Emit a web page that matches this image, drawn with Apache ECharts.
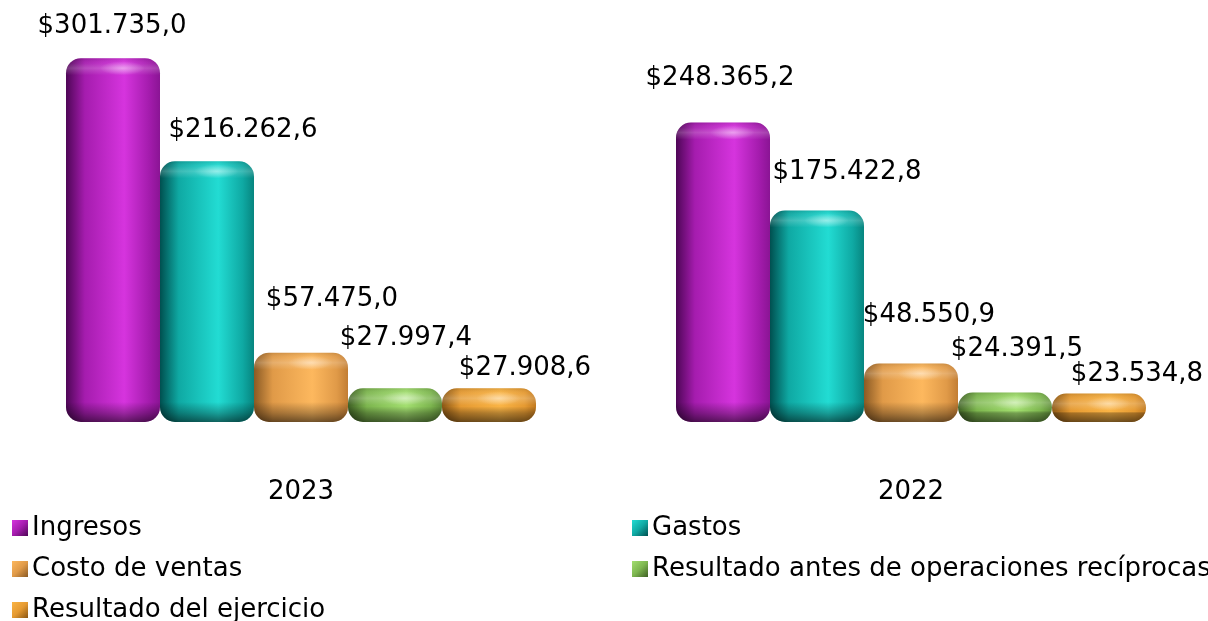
<!DOCTYPE html>
<html>
<head>
<meta charset="utf-8">
<script src="https://cdn.jsdelivr.net/npm/echarts@6/dist/echarts.min.js"></script>
<style>
html,body{margin:0;padding:0;background:#fff;overflow:hidden;}
#chart{width:1220px;height:621px;margin-left:-4px;}
</style>
</head>
<body>
<div id="chart"></div>
<script>
const categories = ['2023', '2022'];
const seriesNames = ['Ingresos', 'Gastos', 'Costo de ventas', 'Resultado antes de operaciones recíprocas', 'Resultado del ejercicio'];
const ingresos = [301735.0, 248365.2];
const gastos = [216262.6, 175422.8];
const costoVentas = [57475.0, 48550.9];
const resultadoAntes = [27997.4, 24391.5];
const resultadoEjercicio = [27908.6, 23534.8];

const seriesValues = [ingresos, gastos, costoVentas, resultadoAntes, resultadoEjercicio];

// styling (not data)
const palettes = [
  {dark: '#4e0656', mid: '#a51cae', light: '#d634de', edge: '#8a1494'},
  {dark: '#004f4f', mid: '#0fa9a3', light: '#22dcd3', edge: '#07857f'},
  {dark: '#8a5a24', mid: '#e09a48', light: '#fdb85e', edge: '#c27d33'},
  {dark: '#3e5f24', mid: '#7db64f', light: '#a3df70', edge: '#5f8c3a'},
  {dark: '#8a5614', mid: '#e59a32', light: '#fab445', edge: '#c27a1f'}
];
const labelOffsets = [
  [[-1, -19], [-3, -31]],
  [[36, -18], [30, -25]],
  [[31, -40], [18, -35]],
  [[11, -37], [12, -30]],
  [[36, -7], [38, -6]]
];
const BAR_W = 94;
const RADIUS = 15;
const FONT = 'DejaVu Sans';
const FS = 26;

function fmt(v) {
  const parts = v.toFixed(1).split('.');
  const intPart = parts[0].replace(/\B(?=(\d{3})+(?!\d))/g, '.');
  return '$' + intPart + ',' + parts[1];
}

const series = seriesNames.map((name, i) => {
  const p = palettes[i];
  return {
    name: name,
    type: 'bar',
    barWidth: BAR_W,
    barGap: '0%',
    z: 2,
    data: seriesValues[i].map((v, j) => ({
      value: v,
      label: {offset: labelOffsets[i][j]}
    })),
    itemStyle: {
      borderRadius: RADIUS,
      color: {
        type: 'linear', x: 0, y: 0, x2: 1, y2: 0,
        colorStops: [
          {offset: 0, color: p.dark},
          {offset: 0.2, color: p.mid},
          {offset: 0.62, color: p.light},
          {offset: 0.88, color: p.mid},
          {offset: 1, color: p.edge}
        ]
      }
    },
    label: {
      show: true,
      position: 'top',
      distance: 0,
      color: '#000',
      fontFamily: FONT,
      fontSize: FS,
      formatter: (prm) => fmt(prm.value)
    }
  };
});

// 3D shading overlay, positioned through the axes
const overlayData = [];
seriesValues.forEach((vals, si) => vals.forEach((v, ci) => overlayData.push([ci, v, si])));
const n = seriesNames.length;

series.push({
  type: 'custom',
  silent: true,
  z: 3,
  data: overlayData,
  renderItem: function (params, api) {
    const ci = api.value(0), v = api.value(1), si = api.value(2);
    const topPt = api.coord([ci, v]);
    const basePt = api.coord([ci, 0]);
    const cx = topPt[0];
    const x = cx - (n * BAR_W) / 2 + si * BAR_W;
    const y = topPt[1];
    const h = basePt[1] - topPt[1];
    const f = (px) => Math.max(0, Math.min(1, px / h));
    const shade = {
      type: 'linear', x: 0, y: 0, x2: 0, y2: 1,
      colorStops: [
        {offset: 0, color: 'rgba(0,0,0,0.10)'},
        {offset: f(5), color: 'rgba(255,255,255,0.06)'},
        {offset: f(10), color: 'rgba(255,255,255,0.20)'},
        {offset: f(17), color: 'rgba(255,255,255,0.0)'},
        {offset: f(Math.max(18, h - 20)), color: 'rgba(0,0,0,0.0)'},
        {offset: f(h - 9), color: 'rgba(0,0,0,0.28)'},
        {offset: 1, color: 'rgba(0,0,0,0.55)'}
      ]
    };
    return {
      type: 'group',
      children: [
        {
          type: 'rect',
          shape: {x: x, y: y, width: BAR_W, height: h, r: RADIUS},
          style: {fill: shade}
        },
        {
          type: 'circle',
          shape: {cx: x + BAR_W * 0.6, cy: y + 10, r: 7},
          scaleX: 3.2, scaleY: 1,
          originX: x + BAR_W * 0.6, originY: y + 10,
          style: {
            fill: {
              type: 'radial', x: 0.5, y: 0.5, r: 0.5,
              colorStops: [
                {offset: 0, color: 'rgba(255,255,255,0.40)'},
                {offset: 1, color: 'rgba(255,255,255,0)'}
              ]
            }
          }
        }
      ]
    };
  }
});

function legendItem(i) {
  const p = palettes[i];
  return {
    name: seriesNames[i],
    itemStyle: {
      color: {
        type: 'linear', x: 0, y: 0, x2: 1, y2: 1,
        colorStops: [
          {offset: 0, color: p.light},
          {offset: 0.5, color: p.mid},
          {offset: 1, color: p.dark}
        ]
      }
    }
  };
}

const legendCommon = {
  orient: 'horizontal',
  icon: 'rect',
  itemWidth: 16,
  itemHeight: 16,
  itemGap: 10,
  padding: 0,
  selectedMode: false,
  textStyle: {fontFamily: FONT, fontSize: FS, color: '#000', lineHeight: 28, padding: [0, 0, 0, -1]}
};
// canvas is shifted 4px left, so add 4 to page x positions
const legendSlots = [
  {idx: 0, left: 16, center: 525},
  {idx: 1, left: 636, center: 525},
  {idx: 2, left: 16, center: 566},
  {idx: 3, left: 636, center: 566},
  {idx: 4, left: 16, center: 607}
];

const option = {
  animation: false,
  backgroundColor: '#fff',
  grid: {left: 0, right: 0, top: 0, bottom: 199, containLabel: false},
  xAxis: {
    type: 'category',
    data: categories,
    axisLine: {show: false},
    axisTick: {show: false},
    axisLabel: {fontFamily: FONT, fontSize: FS, color: '#000', margin: 57}
  },
  yAxis: {
    type: 'value',
    min: 0,
    max: 350000,
    show: false,
    splitLine: {show: false}
  },
  legend: legendSlots.map(s => Object.assign({}, legendCommon, {
    left: s.left, top: s.center - 11, data: [legendItem(s.idx)]
  })),
  series: series
};

const chart = echarts.init(document.getElementById('chart'), null, {renderer: 'canvas'});
chart.setOption(option);
</script>
</body>
</html>
